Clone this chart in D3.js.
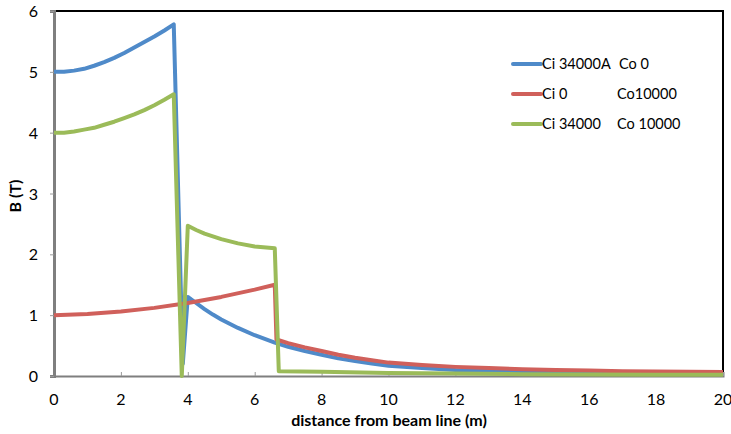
<!DOCTYPE html>
<html>
<head>
<meta charset="utf-8">
<script src="https://cdn.jsdelivr.net/npm/d3@7"></script>
<style>
    body { margin: 0; background: #fff; }
    text { font-family: Lato, "Open Sans", sans-serif; fill: #000; }
    .axisTitle { font-weight: bold; font-size: 16px; }
    .tickLabel { font-size: 16px; }
    .legendText { font-size: 14.5px; }
</style>
</head>
<body>
<script>
//SVG dimension variables
var w = 731, h = 434;

//series names, two columns each
var seriesNames = [
    ["Ci 34000A", "Co 0"],
    ["Ci 0", "Co10000"],
    ["Ci 34000", "Co 10000"]
];
var seriesColors = ["#4F8AC9", "#D0605B", "#9BBB59"];

//blue: Ci 34000A Co 0
var blueX = [0, 0.3, 0.6, 0.9, 1.2, 1.5, 1.8, 2.1, 2.4, 2.7, 3.0, 3.3, 3.58, 3.85, 4.0, 4.25, 4.5, 4.75, 5, 5.5, 6, 6.6, 7, 7.5, 8, 8.5, 9, 9.5, 10, 11, 12, 13, 14, 15, 16, 17, 18, 19, 20];
var blueY = [5.0, 5.0, 5.02, 5.05, 5.1, 5.16, 5.23, 5.31, 5.4, 5.49, 5.58, 5.68, 5.78, 0.2, 1.3, 1.2, 1.1, 1.01, 0.93, 0.79, 0.67, 0.55, 0.48, 0.41, 0.35, 0.29, 0.245, 0.205, 0.17, 0.13, 0.1, 0.085, 0.07, 0.06, 0.05, 0.045, 0.04, 0.037, 0.035];

//red: Ci 0 Co10000
var redX = [0, 1, 2, 3, 4, 5, 6, 6.6, 6.65, 7, 7.5, 8, 8.5, 9, 9.5, 10, 11, 12, 13, 14, 15, 16, 17, 18, 19, 20];
var redY = [1.0, 1.02, 1.06, 1.12, 1.2, 1.3, 1.42, 1.5, 0.6, 0.54, 0.47, 0.41, 0.35, 0.3, 0.26, 0.22, 0.18, 0.15, 0.13, 0.11, 0.1, 0.09, 0.08, 0.075, 0.07, 0.065];

//green: Ci 34000 Co 10000
var greenX = [0, 0.3, 0.6, 0.9, 1.2, 1.5, 1.8, 2.1, 2.4, 2.7, 3.0, 3.3, 3.58, 3.82, 4.0, 4.25, 4.5, 5, 5.5, 6, 6.6, 6.72, 8, 10, 12, 14, 16, 18, 20];
var greenY = [4.0, 4.0, 4.02, 4.05, 4.08, 4.13, 4.18, 4.24, 4.3, 4.37, 4.45, 4.54, 4.63, 0.0, 2.47, 2.4, 2.34, 2.25, 2.18, 2.13, 2.1, 0.08, 0.07, 0.05, 0.04, 0.03, 0.025, 0.02, 0.02];

//tick values
var xTicks = [0, 2, 4, 6, 8, 10, 12, 14, 16, 18, 20];
var yTicks = [0, 1, 2, 3, 4, 5, 6];

var series = [
    {x: blueX, y: blueY},
    {x: redX, y: redY},
    {x: greenX, y: greenY}
];

//create the SVG container
var container = d3.select("body")
    .append("svg")
    .attr("width", w)
    .attr("height", h);

//scales
var x = d3.scaleLinear()
    .range([54, 723])
    .domain([0, 20]);

var y = d3.scaleLinear()
    .range([376, 11])
    .domain([0, 6]);

//plot area frame (top and right black)
container.append("path")
    .attr("d", "M" + x(0) + "," + y(6) + "H" + x(20) + "V" + y(0))
    .style("fill", "none")
    .style("stroke", "#000")
    .style("stroke-width", 2);

//x axis
var xAxis = container.append("g")
    .attr("transform", "translate(0," + y(0) + ")")
    .call(d3.axisBottom(x).tickValues(xTicks).tickSize(-4).tickFormat(""));
xAxis.select(".domain").style("stroke", "#7f7f7f").style("stroke-width", 2);
xAxis.selectAll(".tick line").style("stroke", "#9a9a9a");

xAxis.selectAll(".tickText")
    .data(xTicks)
    .enter()
    .append("text")
    .attr("class", "tickLabel")
    .attr("text-anchor", "middle")
    .attr("x", function(d){ return x(d); })
    .attr("y", 29)
    .text(function(d){ return d; });

//y axis
var yAxis = container.append("g")
    .attr("transform", "translate(" + x(0) + ",0)")
    .call(d3.axisLeft(y).tickValues(yTicks).tickSize(4).tickFormat(""));
yAxis.select(".domain").style("stroke", "#7f7f7f").style("stroke-width", 3);
yAxis.selectAll(".tick line").style("stroke", "#9a9a9a");

yAxis.selectAll(".tickText")
    .data(yTicks)
    .enter()
    .append("text")
    .attr("class", "tickLabel")
    .attr("text-anchor", "end")
    .attr("x", -16)
    .attr("y", function(d){ return y(d) + 6; })
    .text(function(d){ return d; });

//axis titles
container.append("text")
    .attr("class", "axisTitle")
    .attr("text-anchor", "middle")
    .attr("x", 389)
    .attr("y", 426)
    .text("distance from beam line (m)");

container.append("text")
    .attr("class", "axisTitle")
    .attr("text-anchor", "middle")
    .attr("transform", "translate(21,196) rotate(-90)")
    .text("B (T)");

//lines
var line = d3.line()
    .x(function(d){ return x(d[0]); })
    .y(function(d){ return y(d[1]); });

container.selectAll(".series")
    .data(series)
    .enter()
    .append("path")
    .attr("class", "series")
    .attr("d", function(s){
        return line(d3.zip(s.x, s.y));
    })
    .style("fill", "none")
    .style("stroke", function(d, i){ return seriesColors[i]; })
    .style("stroke-width", 4)
    .style("stroke-linejoin", "round");

//legend
var legend = container.selectAll(".legend")
    .data(seriesNames)
    .enter()
    .append("g")
    .attr("class", "legend")
    .attr("transform", function(d, i){
        return "translate(513," + (64 + i * 30) + ")";
    });

legend.append("line")
    .attr("x1", 0)
    .attr("x2", 28)
    .style("stroke", function(d, i){ return seriesColors[i]; })
    .style("stroke-width", 4)
    .style("stroke-linecap", "round");

legend.append("text")
    .attr("class", "legendText")
    .attr("x", 29)
    .attr("y", 5)
    .text(function(d){ return d[0]; });

legend.append("text")
    .attr("class", "legendText")
    .attr("x", function(d, i){ return i == 0 ? 106 : 104; })
    .attr("y", 5)
    .text(function(d){ return d[1]; });
</script>
</body>
</html>
